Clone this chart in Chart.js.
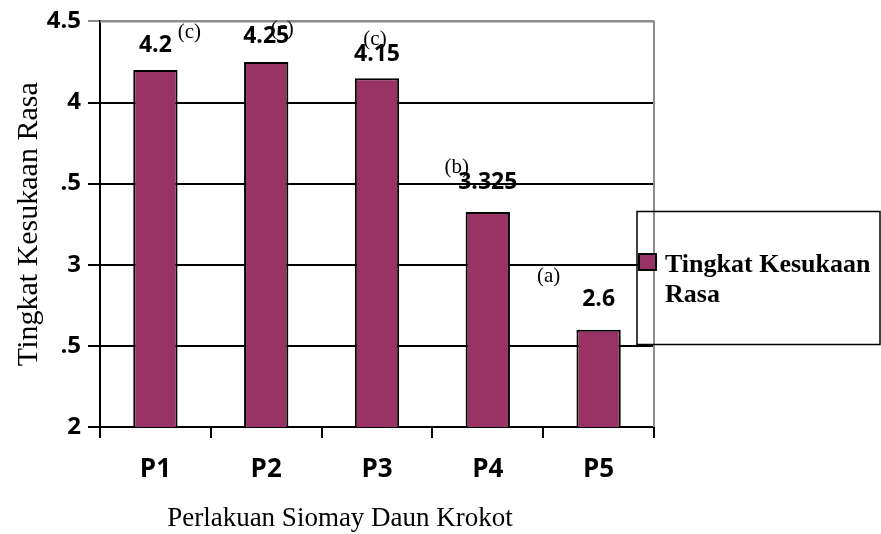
<!DOCTYPE html>
<html>
<head>
<meta charset="utf-8">
<script src="https://cdn.jsdelivr.net/npm/chart.js@4"></script>
<style>
  html, body { margin: 0; padding: 0; background: #fff; }
  #wrap { width: 881px; height: 534px; }
</style>
</head>
<body>
<div id="wrap"><canvas id="chart" width="881" height="534"></canvas></div>
<script>
// data
const categories = ["P1", "P2", "P3", "P4", "P5"];
const values = [4.2, 4.25, 4.15, 3.325, 2.6];
const letters = ["(c)", "(c)", "(c)", "(b)", "(a)"];
const yTickValues = [2, 2.5, 3, 3.5, 4, 4.5];
const yTickLabels = ["2", ".5", "3", ".5", "4", "4.5"];
const seriesName = "Tingkat Kesukaan Rasa";
const xTitle = "Perlakuan Siomay Daun Krokot";

// where the letters sit relative to each bar top (px)
const letterOffsets = [[34, -38], [16, -32], [-2, -39], [-31, -45], [-50, -53]];
const valueLift = [25, 26, 24, 30, 30];

const BAR = "#993366";
const SANS = "'Open Sans', 'Liberation Sans', sans-serif";
const SERIF = "'Liberation Serif', 'DejaVu Serif', serif";

const extras = {
  id: "extras",
  afterDraw(chart) {
    const ctx = chart.ctx;
    const xs = chart.scales.x, ys = chart.scales.y;
    const a = chart.chartArea;
    ctx.save();

    // gray frame on top and right
    ctx.strokeStyle = "#8c8c8c";
    ctx.lineWidth = 2;
    ctx.beginPath();
    ctx.moveTo(a.left, a.top);
    ctx.lineTo(a.right, a.top);
    ctx.lineTo(a.right, a.bottom);
    ctx.stroke();

    // value labels + letters
    ctx.fillStyle = "#000";
    ctx.textAlign = "center";
    ctx.textBaseline = "middle";
    values.forEach((v, i) => {
      const x = xs.getPixelForValue(i);
      const y = ys.getPixelForValue(v);
      ctx.font = "bold 23px " + SANS;
      ctx.fillText(String(v), x, y - valueLift[i]);
      ctx.font = "21px " + SERIF;
      ctx.fillText(letters[i], x + letterOffsets[i][0], y + letterOffsets[i][1]);
    });

    // x title
    ctx.textBaseline = "alphabetic";
    ctx.font = "27px " + SERIF;
    ctx.fillText(xTitle, 340, 526);

    // legend
    ctx.strokeStyle = "#000";
    ctx.lineWidth = 1.5;
    ctx.strokeRect(637, 211.5, 243, 133);
    ctx.fillStyle = BAR;
    ctx.fillRect(639, 254, 17, 16);
    ctx.lineWidth = 2;
    ctx.strokeRect(639, 254, 17, 16);
    ctx.fillStyle = "#000";
    ctx.textAlign = "left";
    ctx.font = "bold 26px " + SERIF;
    ctx.fillText("Tingkat Kesukaan", 665, 272);
    ctx.fillText("Rasa", 665, 302);
    ctx.restore();
  }
};

new Chart(document.getElementById("chart"), {
  type: "bar",
  data: {
    labels: categories,
    datasets: [{
      label: seriesName,
      data: values,
      backgroundColor: BAR,
      borderColor: "#000",
      borderWidth: 2,
      borderSkipped: "bottom",
      categoryPercentage: 0.5,
      barPercentage: 0.8
    }]
  },
  options: {
    responsive: false,
    animation: false,
    layout: { padding: { top: 19, right: 227, left: 0, bottom: 0 } },
    plugins: { legend: { display: false }, tooltip: { enabled: false } },
    scales: {
      x: {
        offset: true,
        grid: { offset: true, drawOnChartArea: false, drawTicks: true, tickLength: 11, color: "#000", lineWidth: 2 },
        border: { display: true, color: "#000", width: 2 },
        ticks: { color: "#000", padding: 16, font: { family: SANS, size: 26, weight: "bold" } },
        afterFit(s) { s.height = 107; }
      },
      y: {
        min: 2, max: 4.5,
        afterBuildTicks(s) { s.ticks = yTickValues.map(v => ({ value: v })); },
        grid: {
          color: c => (c.tick && c.tick.value === 4.5) ? "#8c8c8c" : "#000",
          lineWidth: 2, tickLength: 12
        },
        border: { display: true, color: "#000", width: 2 },
        ticks: {
          color: "#000", padding: 7,
          font: { family: SANS, size: 24, weight: "bold" },
          callback: (v, i) => yTickLabels[i]
        },
        title: {
          display: true, text: seriesName, color: "#000",
          font: { family: SERIF, size: 30 }, padding: { top: 11, bottom: 0 }
        },
        afterFit(s) { s.width = 100; }
      }
    }
  },
  plugins: [extras]
});
</script>
</body>
</html>
